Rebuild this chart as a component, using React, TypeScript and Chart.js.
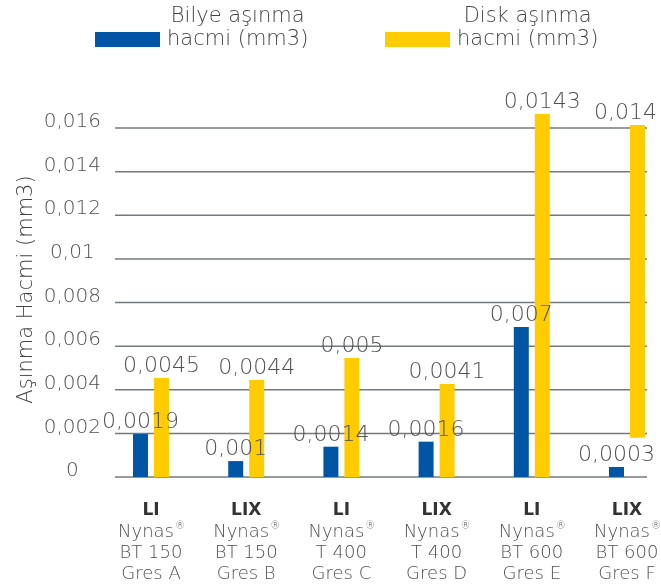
import React, { useEffect, useRef } from 'react';
import { Chart, registerables } from 'chart.js';

Chart.register(...registerables);

// ---- data ----
const groupCodes = ['LI', 'LIX', 'LI', 'LIX', 'LI', 'LIX'];
const productNames = ['Nynas®', 'Nynas®', 'Nynas®', 'Nynas®', 'Nynas®', 'Nynas®'];
const grades = ['BT 150', 'BT 150', 'T 400', 'T 400', 'BT 600', 'BT 600'];
const samples = ['Gres A', 'Gres B', 'Gres C', 'Gres D', 'Gres E', 'Gres F'];

const ballSeriesName = ['Bilye aşınma', 'hacmi (mm3)'];
const diskSeriesName = ['Disk aşınma', 'hacmi (mm3)'];

// bar heights as drawn in the picture
const ballWear = [0.00197, 0.00073, 0.00139, 0.00162, 0.00688, 0.00046];
const diskWearTop = [0.00454, 0.00445, 0.00546, 0.00426, 0.01664, 0.01614];
const diskWearBase = [0, 0, 0, 0, 0, 0.0018];

// value labels as printed in the picture
const ballLabels = ['0,0019', '0,001', '0,0014', '0,0016', '0,007', '0,0003'];
const diskLabels = ['0,0045', '0,0044', '0,005', '0,0041', '0,0143', '0,014'];

const yMin = 0;
const yMax = 0.016;
const yStep = 0.002;
const yAxisTitle = 'Aşınma Hacmi (mm3)';

// ---- style ----
const FAMILY = '"DejaVu Sans", "Noto Sans", sans-serif';
const BLUE = '#0056a4';
const YELLOW = '#ffcc00';
const TEXT = '#505050';
const GRID = '#737a7f';

const fmt = (v: number) => {
  if (Math.abs(v) < 1e-12) return '0';
  return String(parseFloat(v.toFixed(4))).replace('.', ',');
};

const gridPlugin = {
  id: 'customGrid',
  beforeDatasetsDraw(chart: any) {
    const { ctx, chartArea, scales } = chart;
    const y = scales.y;
    ctx.save();
    ctx.strokeStyle = GRID;
    ctx.lineWidth = 1.5;
    y.ticks.forEach((t: any) => {
      const py = y.getPixelForValue(t.value);
      ctx.beginPath();
      ctx.moveTo(chartArea.left - 36, py);
      ctx.lineTo(chartArea.right + 20, py);
      ctx.stroke();
    });
    ctx.restore();
  },
};

const valueLabelPlugin = {
  id: 'valueLabels',
  afterDatasetsDraw(chart: any) {
    const { ctx } = chart;
    const sets = [ballLabels, diskLabels];
    ctx.save();
    ctx.font = `200 22px ${FAMILY}`;
    ctx.fillStyle = TEXT;
    ctx.textAlign = 'center';
    ctx.textBaseline = 'alphabetic';
    sets.forEach((labels, di) => {
      const meta = chart.getDatasetMeta(di);
      meta.data.forEach((el: any, i: number) => {
        const top = Math.min(el.y, el.base);
        const w = ctx.measureText(labels[i]).width;
        const x = Math.min(el.x, chart.width - 4 - w / 2);
        ctx.fillText(labels[i], x, top - 6);
      });
    });
    ctx.restore();
  },
};

const drawSup = (ctx: CanvasRenderingContext2D, text: string, cx: number, y: number, size: number) => {
  if (text.endsWith('®')) {
    const base = text.slice(0, -1);
    ctx.font = `200 ${size}px ${FAMILY}`;
    const w1 = ctx.measureText(base).width;
    ctx.font = `200 ${Math.round(size * 0.55)}px ${FAMILY}`;
    const w2 = ctx.measureText('®').width;
    const left = cx - (w1 + w2) / 2;
    ctx.textAlign = 'left';
    ctx.font = `200 ${size}px ${FAMILY}`;
    ctx.fillText(base, left, y);
    ctx.font = `200 ${Math.round(size * 0.55)}px ${FAMILY}`;
    ctx.fillText('®', left + w1 + 1, y - size * 0.42);
    ctx.textAlign = 'center';
  } else {
    ctx.font = `200 ${size}px ${FAMILY}`;
    ctx.fillText(text, cx, y);
  }
};

const categoryLabelPlugin = {
  id: 'categoryLabels',
  afterDraw(chart: any) {
    const { ctx, scales } = chart;
    const x = scales.x;
    const top = x.top;
    ctx.save();
    ctx.textAlign = 'center';
    ctx.textBaseline = 'alphabetic';
    groupCodes.forEach((code, i) => {
      const px = x.getPixelForValue(i);
      ctx.fillStyle = '#333333';
      ctx.font = `bold 17px ${FAMILY}`;
      ctx.fillText(code, px, top + 38);
      ctx.fillStyle = TEXT;
      drawSup(ctx, productNames[i], px, top + 60, 18);
      ctx.font = `200 18px ${FAMILY}`;
      ctx.fillText(grades[i], px, top + 81);
      ctx.fillText(samples[i], px, top + 102);
    });
    ctx.restore();
  },
};

const legendAndTitlePlugin = {
  id: 'legendAndTitle',
  afterDraw(chart: any) {
    const { ctx, chartArea } = chart;
    ctx.save();
    // legend
    const items = [
      { name: ballSeriesName, color: BLUE, boxX: 95 },
      { name: diskSeriesName, color: YELLOW, boxX: 385 },
    ];
    ctx.font = `200 21px ${FAMILY}`;
    items.forEach((it) => {
      ctx.fillStyle = it.color;
      ctx.fillRect(it.boxX, 32, 65, 15);
      const w = Math.max(...it.name.map((s) => ctx.measureText(s).width));
      const cx = it.boxX + 65 + 7 + w / 2;
      ctx.fillStyle = '#444444';
      ctx.textAlign = 'center';
      ctx.textBaseline = 'alphabetic';
      it.name.forEach((line, li) => ctx.fillText(line, cx, 22 + li * 23));
    });
    // y axis title
    ctx.translate(32, (chartArea.top + chartArea.bottom) / 2 - 13);
    ctx.rotate(-Math.PI / 2);
    ctx.fillStyle = '#444444';
    ctx.font = `200 21px ${FAMILY}`;
    ctx.textAlign = 'center';
    ctx.textBaseline = 'alphabetic';
    ctx.fillText(yAxisTitle, 0, 0);
    ctx.restore();
  },
};

export default function App() {
  const ref = useRef<HTMLCanvasElement | null>(null);

  useEffect(() => {
    if (!ref.current) return;
    const chart = new Chart(ref.current, {
      type: 'bar',
      data: {
        labels: samples,
        datasets: [
          {
            label: ballSeriesName.join(' '),
            data: ballWear,
            backgroundColor: BLUE,
            borderWidth: 0,
            clip: false as any,
          },
          {
            label: diskSeriesName.join(' '),
            data: diskWearTop.map((v, i) => [diskWearBase[i], v]) as any,
            backgroundColor: YELLOW,
            borderWidth: 0,
            clip: false as any,
          },
        ],
      },
      options: {
        responsive: true,
        maintainAspectRatio: false,
        animation: false,
        layout: { padding: { left: 0, right: 34, top: 128, bottom: 0 } },
        datasets: {
          bar: { categoryPercentage: 0.441, barPercentage: 0.714 },
        },
        plugins: {
          legend: { display: false },
          tooltip: { enabled: false },
          title: { display: false },
        },
        scales: {
          x: {
            type: 'category',
            offset: false,
            grid: { display: false, drawTicks: false },
            border: { display: false },
            ticks: { display: false },
            afterFit: (s: any) => {
              s.height = 110;
            },
          },
          y: {
            min: yMin,
            max: yMax,
            grid: { display: false, drawTicks: false },
            border: { display: false },
            ticks: {
              stepSize: yStep,
              padding: 50,
              crossAlign: 'center',
              labelOffset: -6,
              color: TEXT,
              font: { family: FAMILY, size: 20, weight: '200' as any },
              callback: (v: any) => fmt(Number(v)),
            },
            afterFit: (s: any) => {
              s.width = 151;
            },
          },
        },
      },
      plugins: [gridPlugin, valueLabelPlugin, categoryLabelPlugin, legendAndTitlePlugin],
    });
    return () => chart.destroy();
  }, []);

  return (
    <div style={{ position: 'fixed', left: 0, top: 0, width: 661, height: 587, background: '#fff' }}>
      <canvas ref={ref} />
    </div>
  );
}
